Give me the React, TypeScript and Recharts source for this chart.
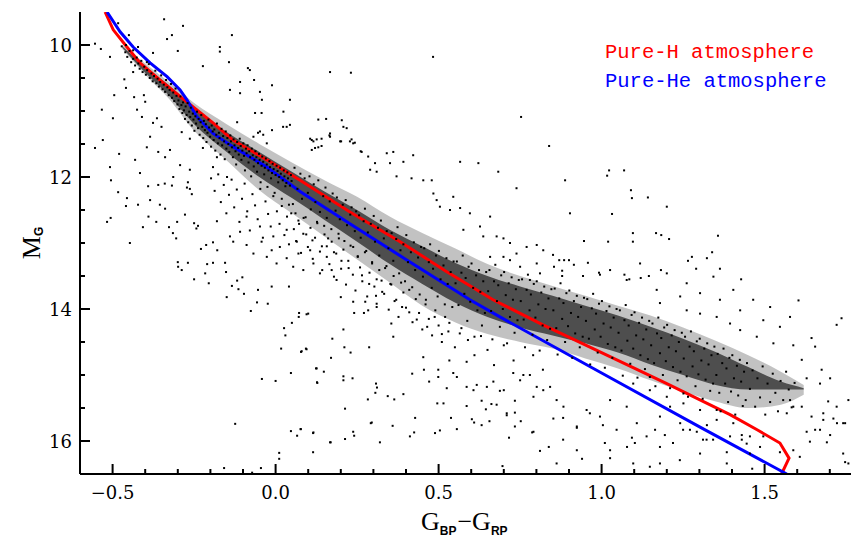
import { ComposedChart, XAxis, YAxis, Scatter, Line, Area } from "recharts";

type Pt = [number, number];

// axis ticks
const colourTicks = [-0.5, -0.4, -0.3, -0.2, -0.1, 0, 0.1, 0.2, 0.3, 0.4, 0.5, 0.6, 0.7, 0.8, 0.9, 1, 1.1, 1.2, 1.3, 1.4, 1.5, 1.6, 1.7];
const colourLabels = [-0.5, 0, 0.5, 1, 1.5];
const magTicks = [10, 10.5, 11, 11.5, 12, 12.5, 13, 13.5, 14, 14.5, 15, 15.5, 16];
const magLabels = [10, 12, 14, 16];

// model cooling sequences (colour, M_G)
const pureH: Pt[] = [[-0.523,9.5],[-0.498,9.77],[-0.456,10.03],[-0.416,10.27],[-0.355,10.53],[-0.293,10.78],[-0.253,10.94],[-0.192,11.18],[-0.131,11.44],[-0.079,11.59],[-0.027,11.74],[0.075,12.05],[0.228,12.53],[0.382,12.98],[0.52,13.42],[0.667,13.86],[0.82,14.24],[0.995,14.65],[1.2,15.13],[1.394,15.6],[1.477,15.83],[1.547,16.03],[1.575,16.26],[1.552,16.5]];
const pureHe: Pt[] = [[-0.517,9.5],[-0.477,9.8],[-0.437,10.03],[-0.385,10.27],[-0.333,10.48],[-0.293,10.68],[-0.272,10.83],[-0.241,11.09],[-0.192,11.34],[-0.131,11.54],[-0.027,11.85],[0.075,12.22],[0.228,12.71],[0.4,13.25],[0.596,13.86],[0.688,14.12],[1.0,14.97],[1.302,15.79],[1.568,16.5]];

// envelope of the crowded sequence
const envColour = [-0.47,-0.4,-0.33,-0.25,-0.15,-0.05,0.05,0.15,0.25,0.35,0.45,0.55,0.65,0.75,0.85,0.95,1.05,1.15,1.25,1.35,1.45,1.55,1.62];
const coreBright = [10.02,10.33,10.6,10.95,11.32,11.62,11.92,12.22,12.5,12.8,13.05,13.3,13.5,13.66,13.8,13.95,14.1,14.27,14.45,14.65,14.88,15.1,15.2];
const coreFaint = [10.04,10.42,10.75,11.2,11.62,12.0,12.32,12.65,12.98,13.32,13.62,13.9,14.12,14.28,14.4,14.52,14.66,14.84,15.0,15.15,15.22,15.22,15.22];
const haloBright = [10.0,10.28,10.55,10.88,11.2,11.5,11.78,12.05,12.3,12.6,12.85,13.08,13.32,13.5,13.65,13.8,13.95,14.1,14.28,14.48,14.7,14.95,15.15];
const haloFaint = [10.06,10.45,10.8,11.3,11.75,12.2,12.55,12.9,13.25,13.6,13.95,14.2,14.38,14.5,14.6,14.75,14.9,15.08,15.25,15.4,15.5,15.45,15.3];

// stars along the blue end of the sequence
const starsHot: Pt[] = [[-0.472,10.02],[-0.461,10.11],[-0.455,10.18],[-0.448,10.09],[-0.443,10.26],[-0.437,10.21],[-0.431,10.31],[-0.426,10.19],[-0.421,10.28],[-0.417,10.36],[-0.412,10.24],[-0.408,10.41],[-0.403,10.33],[-0.398,10.45],[-0.394,10.38],[-0.389,10.29],[-0.386,10.5],[-0.381,10.43],[-0.377,10.55],[-0.373,10.47],[-0.369,10.39],[-0.366,10.58],[-0.362,10.51],[-0.358,10.63],[-0.354,10.56],[-0.351,10.46],[-0.347,10.67],[-0.343,10.6],[-0.339,10.71],[-0.336,10.53],[-0.332,10.64],[-0.328,10.76],[-0.325,10.68],[-0.321,10.59],[-0.318,10.8],[-0.314,10.72],[-0.311,10.85],[-0.307,10.66],[-0.304,10.77],[-0.301,10.9],
[-0.298,10.84],[-0.295,10.97],[-0.292,10.78],[-0.289,10.91],[-0.286,11.03],[-0.284,10.87],[-0.281,10.99],[-0.278,11.12],[-0.276,10.93],[-0.273,11.06],[-0.27,10.88],[-0.268,11.17],[-0.265,11.01],[-0.262,11.09],[-0.26,10.95],[-0.257,11.22],[-0.254,11.04],[-0.252,11.13],[-0.249,11.3],[-0.246,11.08],[-0.244,11.19],[-0.241,11.01],[-0.238,11.26],[-0.236,11.12],[-0.233,11.36],[-0.23,11.17],[-0.228,11.06],[-0.225,11.24],[-0.222,11.41],[-0.22,11.15],[-0.217,11.29],[-0.214,11.2],[-0.212,11.47],[-0.209,11.33],[-0.206,11.13],[-0.204,11.25],[-0.201,11.39],[-0.198,11.54],[-0.196,11.22],[-0.193,11.31],[-0.19,11.44],[-0.188,11.28],[-0.185,11.6],[-0.182,11.36],[-0.18,11.19],[-0.177,11.49],[-0.174,11.33],[-0.172,11.41],[-0.169,11.66],[-0.166,11.27],[-0.164,11.52],[-0.161,11.38],[-0.158,11.46],[-0.156,11.73],[-0.153,11.31],[-0.151,11.57],
[-0.148,11.41],[-0.145,11.5],[-0.142,11.62],[-0.139,11.37],[-0.137,11.46],[-0.134,11.55],[-0.131,11.7],[-0.129,11.43],[-0.126,11.52],[-0.123,11.61],[-0.121,11.81],[-0.118,11.47],[-0.115,11.56],[-0.113,11.66],[-0.11,11.42],[-0.107,11.53],[-0.105,11.74],[-0.102,11.6],[-0.099,11.49],[-0.097,11.68],[-0.094,11.9],[-0.091,11.57],[-0.089,11.64],[-0.086,11.52],[-0.083,11.78],[-0.081,11.61],[-0.078,11.7],[-0.075,11.99],[-0.073,11.57],[-0.07,11.67],[-0.067,11.84],[-0.065,11.74],[-0.062,11.61],[-0.059,11.7],[-0.057,11.92],[-0.054,11.79],[-0.051,11.65],[-0.049,11.74],[-0.046,12.08],[-0.043,11.83],[-0.041,11.69],[-0.038,11.77],[-0.035,11.96],[-0.033,11.86],[-0.03,11.72],[-0.027,11.81],[-0.025,12.15],[-0.022,11.9],[-0.019,11.76],[-0.017,11.85],[-0.014,12.02],[-0.011,11.94],[-0.009,11.8],[-0.006,11.88],[-0.003,12.24],[0.0,11.97],[0.003,11.83],[0.006,11.91],[0.008,12.08],[0.011,12.0],[0.014,11.86],[0.016,11.95],[0.019,12.33],[0.022,12.05],[0.025,11.9],[0.027,11.99],[0.03,12.14],[0.033,12.09],[0.036,11.93],[0.038,12.02],[0.041,12.42],[0.044,12.13],[0.047,11.97],[0.049,12.06]];

// stars in the middle of the sequence
const starsMid: Pt[] = [[0.053,12.41],[0.058,11.86],[0.061,12.55],[0.067,12.18],[0.072,12.71],[0.076,11.95],[0.081,12.33],[0.086,12.62],[0.089,12.02],[0.094,12.87],[0.099,12.24],[0.104,11.99],[0.108,12.49],[0.113,12.96],[0.117,12.11],[0.122,12.38],[0.127,12.68],[0.131,12.05],[0.136,12.53],[0.142,13.05],[0.146,12.29],[0.149,12.74],
[0.153,12.16],[0.157,12.62],[0.161,12.93],[0.166,12.37],[0.171,12.79],[0.175,12.25],[0.179,13.14],[0.184,12.51],[0.188,12.31],[0.193,12.86],[0.197,12.64],[0.202,13.27],[0.206,12.42],[0.211,12.97],[0.215,12.35],[0.219,12.73],[0.224,13.38],[0.229,12.57],[0.233,12.46],[0.238,13.06],[0.243,12.82],[0.247,12.52],
[0.252,13.21],[0.256,12.58],[0.261,12.92],[0.265,13.49],[0.27,12.67],[0.274,12.48],[0.278,13.12],[0.283,12.84],[0.287,13.62],[0.292,12.71],[0.296,13.31],[0.301,12.59],[0.305,12.98],[0.31,13.55],[0.314,12.77],[0.318,13.19],[0.323,12.66],[0.327,13.74],[0.332,12.93],[0.336,13.38],[0.341,12.82],[0.346,13.08],
[0.352,13.62],[0.356,12.85],[0.361,13.27],[0.365,13.88],[0.37,12.94],[0.374,12.76],[0.379,13.46],[0.383,13.11],[0.388,13.97],[0.392,13.02],[0.397,13.58],[0.401,12.88],[0.406,13.29],[0.41,14.05],[0.415,13.14],[0.419,13.67],[0.424,12.99],[0.428,13.41],[0.433,14.16],[0.437,13.22],[0.442,13.78],[0.446,13.06],
[0.452,13.51],[0.456,13.08],[0.461,13.86],[0.465,14.27],[0.47,13.29],[0.474,13.02],[0.479,13.68],[0.483,13.39],[0.488,14.12],[0.492,13.19],[0.497,13.81],[0.501,13.12],[0.506,13.55],[0.51,14.38],[0.515,13.34],[0.519,13.93],[0.524,13.23],[0.528,13.62],[0.533,14.21],[0.537,13.44],[0.542,13.97],[0.546,13.28],
[0.552,13.61],[0.556,13.28],[0.561,13.94],[0.565,14.37],[0.57,13.45],[0.574,13.19],[0.579,13.77],[0.583,13.53],[0.588,14.18],[0.592,13.36],[0.597,13.89],[0.601,13.31],[0.606,13.68],[0.61,14.42],[0.615,13.49],[0.619,14.02],[0.624,13.41],[0.628,13.74],[0.633,14.25],[0.637,13.58],[0.642,14.06],[0.646,13.44],
[0.652,13.73],[0.656,13.41],[0.661,14.03],[0.665,14.46],[0.67,13.58],[0.674,13.33],[0.679,13.88],[0.683,13.64],[0.688,14.27],[0.692,13.49],[0.697,14.0],[0.701,13.44],[0.706,13.79],[0.71,14.52],[0.715,13.61],[0.719,14.12],[0.724,13.52],[0.728,13.86],[0.733,14.36],[0.737,13.7],[0.742,14.17],[0.746,13.56]];

// stars at the red end of the sequence
const starsCool: Pt[] = [[0.752,13.88],[0.756,13.55],[0.761,14.16],[0.765,14.58],[0.77,13.71],[0.774,13.48],[0.779,14.02],[0.783,13.78],[0.788,14.39],[0.792,13.62],[0.797,14.13],[0.801,13.58],[0.806,13.93],[0.81,14.63],[0.815,13.75],[0.819,14.25],[0.824,13.66],[0.828,14.0],[0.833,14.47],[0.837,13.84],[0.842,14.3],[0.846,13.7],
[0.852,14.02],[0.856,13.69],[0.861,14.29],[0.865,14.69],[0.87,13.84],[0.874,13.61],[0.879,14.15],[0.883,13.91],[0.888,14.5],[0.892,13.76],[0.897,14.26],[0.901,13.72],[0.906,14.06],[0.91,14.74],[0.915,13.88],[0.919,14.37],[0.924,13.8],[0.928,14.12],[0.933,14.58],[0.937,13.97],[0.942,14.42],[0.946,13.83],
[0.952,14.18],[0.956,13.85],[0.961,14.45],[0.965,14.84],[0.97,13.99],[0.974,13.77],[0.979,14.31],[0.983,14.07],[0.988,14.66],[0.992,13.92],[0.997,14.42],[1.001,13.88],[1.006,14.22],[1.01,14.89],[1.015,14.03],[1.019,14.53],[1.024,13.96],[1.028,14.28],[1.033,14.74],[1.037,14.13],[1.042,14.58],[1.046,14.0],
[1.052,14.36],[1.056,14.02],[1.061,14.63],[1.065,15.01],[1.07,14.17],[1.074,13.94],[1.079,14.48],[1.083,14.25],[1.088,14.83],[1.092,14.09],[1.097,14.6],[1.101,14.05],[1.106,14.4],[1.11,15.04],[1.115,14.21],[1.119,14.7],[1.124,14.13],[1.128,14.46],[1.133,14.91],[1.137,14.31],[1.142,14.76],[1.146,14.18],
[1.152,14.55],[1.156,14.22],[1.161,14.82],[1.165,15.17],[1.17,14.37],[1.174,14.13],[1.179,14.67],[1.183,14.44],[1.188,15.0],[1.192,14.28],[1.197,14.79],[1.201,14.24],[1.206,14.58],[1.21,15.2],[1.215,14.4],[1.219,14.88],[1.224,14.32],[1.228,14.64],[1.233,15.08],[1.237,14.5],[1.242,14.95],[1.246,14.36],
[1.252,14.75],[1.256,14.42],[1.261,15.02],[1.265,15.33],[1.27,14.57],[1.274,14.34],[1.279,14.87],[1.283,14.64],[1.288,15.17],[1.292,14.49],[1.297,14.99],[1.301,14.45],[1.306,14.78],[1.31,15.36],[1.315,14.6],[1.319,15.07],[1.324,14.52],[1.328,14.84],[1.333,15.24],[1.337,14.7],[1.342,15.13],[1.346,14.57],
[1.352,15.0],[1.356,14.68],[1.361,15.27],[1.365,15.55],[1.37,14.82],[1.374,14.6],[1.379,15.13],[1.383,14.9],[1.388,15.41],[1.392,14.74],[1.397,15.25],[1.401,14.7],[1.406,15.05],[1.41,15.6],[1.415,14.86],[1.419,15.31],[1.424,14.77],[1.428,15.1],[1.433,15.47],[1.437,14.95],[1.442,15.38],[1.446,14.82],
[1.455,15.21],[1.463,14.93],[1.471,15.48],[1.478,15.05],[1.486,15.34],[1.494,14.87],[1.502,15.6],[1.509,15.13],[1.517,15.41],[1.525,14.98],[1.533,15.27],[1.541,15.55],[1.549,15.09],[1.557,15.38],[1.566,14.95],[1.574,15.22],[1.583,15.49],[1.592,15.12]];

// second, fainter branch below the He track
const starsBranch: Pt[] = [[-0.198,12.02],[-0.187,12.21],[-0.176,11.96],[-0.168,12.38],[-0.159,12.12],[-0.151,12.55],[-0.143,12.27],[-0.135,12.04],[-0.127,12.46],[-0.119,12.19],[-0.111,12.68],[-0.103,12.33],[-0.095,12.1],[-0.087,12.52],[-0.079,12.81],[-0.071,12.26],[-0.063,12.43],[-0.055,12.64],[-0.047,12.18],[-0.039,12.92],[-0.031,12.37],[-0.023,12.56],[-0.015,12.75],[-0.007,12.29],
[0.004,12.52],[0.012,12.71],[0.019,12.44],[0.027,12.88],[0.035,12.6],[0.041,13.02],[0.048,12.55],[0.056,12.79],[0.063,12.97],[0.07,12.66],[0.078,13.15],[0.085,12.86],[0.092,12.61],[0.099,13.06],[0.107,12.77],[0.114,13.24],[0.121,12.92],[0.128,12.7],[0.136,13.13],[0.143,13.41],[0.15,12.87],[0.157,13.05],[0.165,13.32],[0.172,12.98],[0.179,13.51],[0.186,13.16],[0.194,12.93],[0.201,13.39],[0.208,13.1],[0.216,13.63],[0.223,13.27],[0.23,13.04],[0.237,13.48],[0.245,13.72],[0.252,13.2],[0.259,13.37],[0.266,13.58],[0.274,13.14],[0.281,13.81],[0.288,13.45],[0.296,13.29],[0.303,13.66],[0.31,13.92],[0.318,13.41],[0.325,13.57],[0.333,13.77],[0.34,13.35],[0.347,14.01],[0.355,13.63],[0.362,13.5],[0.37,13.86],[0.377,14.12],[0.385,13.6],[0.392,13.75],[0.4,13.98],[0.41,13.71],[0.42,14.2],[0.43,13.85],[0.44,14.06],[0.45,14.31],[0.46,13.93],[0.47,14.15],[0.48,14.4],[0.49,14.02],[0.5,14.25],[0.51,14.5],[0.52,14.12],[0.53,14.34],[0.55,14.58],[0.57,14.29],[0.59,14.47],[0.61,14.7],[0.63,14.41],[0.65,14.62],[0.67,14.85],[0.7,14.55],[0.73,14.78],[0.76,15.0],[0.79,14.7],[0.82,14.92],
[-0.14,12.9],[-0.13,12.98],[-0.109,12.83],[-0.089,13.03],[-0.068,13.16],[-0.043,12.98],[-0.027,13.21],[-0.012,13.11],[0.003,13.31],[0.013,13.06],[0.034,13.23],[0.054,13.36],[0.07,13.16],[0.085,13.41],[0.106,13.11],[0.116,13.31],[0.136,13.46],[0.157,13.21],[0.172,13.41],[0.187,13.56],[-0.089,12.6],[-0.048,12.75],[-0.007,12.9],[0.034,12.8],[0.065,12.98]];

// isolated stars, bright side
const starsAbove: Pt[] = [[-0.554,9.98],[-0.536,10.06],[-0.508,10.18],[-0.483,9.67],[-0.464,10.52],[-0.459,10.65],[-0.495,10.76],[-0.533,10.98],[-0.499,11.11],[-0.554,11.56],[-0.53,11.44],[-0.508,11.85],[-0.48,11.65],[-0.437,10.41],[-0.434,10.79],[-0.404,10.76],[-0.4,10.86],[-0.425,10.98],[-0.41,11.09],[-0.376,11.18],[-0.385,11.39],[-0.35,11.24],[-0.364,11.11],[-0.431,11.74],[-0.416,11.94],[-0.395,11.55],[-0.36,11.62],[-0.339,11.7],[-0.324,11.59],[-0.293,11.82],[-0.314,12.0],[-0.263,11.89],[-0.269,12.08],[-0.288,11.32],[-0.263,11.42],[-0.223,11.56],[-0.192,11.85],[-0.149,12.0],[-0.18,11.7],[-0.118,11.17],[-0.109,10.73],[-0.066,10.53],[-0.079,10.38],[-0.011,10.61],[-0.011,11.29],[0.023,11.24],[0.044,10.83],[-0.14,10.68],[-0.171,10.03],[-0.171,10.1],[-0.223,10.32],[-0.284,9.71],[-0.342,9.61],[-0.318,9.85],[-0.333,9.91],[-0.3,10.09],[-0.134,9.85],[-0.143,10.26],[-0.085,10.35],[-0.109,10.56],[-0.048,10.71],[-0.042,10.83],[-0.376,10.12],[-0.395,10.26],[-0.45,9.85],[-0.459,10.0],[-0.422,10.03],[-0.437,10.08],[-0.054,11.33],
[0.106,11.42],[0.111,11.44],[0.116,11.46],[0.126,11.43],[0.131,11.13],[0.141,11.42],[0.155,11.12],[0.165,11.37],[0.167,11.39],[0.203,11.14],[0.218,11.26],[0.201,11.46],[0.233,11.43],[0.243,11.48],[0.121,11.56],[0.131,11.55],[0.141,11.53],[0.261,11.61],[0.483,10.18],[0.167,10.41],[0.231,10.42],[0.753,11.09],[0.839,11.53],
[-0.068,11.39],[-0.048,11.31],[-0.038,11.36],[-0.027,11.49],[-0.063,11.03],[-0.043,11.03],[0.024,11.01],[0.044,11.21],[0.034,11.24],[0.111,11.59],[0.167,11.34],[0.198,11.46],[0.208,11.24],[0.228,11.46],[0.238,11.49],[0.264,11.62],[0.284,11.69],[0.305,11.79],[0.29,11.89],[0.31,11.92],[0.341,11.64],[0.361,11.62],[0.351,11.79],[0.371,11.99],[0.392,11.77],[0.417,12.02],[0.422,11.67],[0.453,12.05],[0.479,12.05],[0.484,12.25],[0.494,12.35],[0.504,12.45],[0.535,12.5],[0.545,12.3],[0.566,12.47],[0.576,12.8],[0.596,12.55],[0.627,12.75],[0.637,12.9],[0.658,12.6],[0.683,11.92],[0.739,12.17],[0.566,11.77],[0.622,11.79],[0.678,12.9],[0.699,12.93],[0.719,13.0],[0.77,13.06],[0.801,13.03],[0.821,13.11],[0.801,13.31],[0.811,13.46],[0.78,13.56],[0.75,13.36],[0.719,13.26],[0.739,13.16],[0.699,13.21],[0.658,13.21],
[1.023,11.9],[1.069,11.9],[1.017,11.98],[0.888,12.05],[1.09,12.2],[1.093,12.32],[1.142,12.31],[1.2,12.45],[0.903,12.55],[1.032,12.56],[1.096,12.85],[1.167,12.85],[1.183,12.88],[1.207,12.94],[1.357,12.89],[0.946,12.97],[1.02,12.98],[1.096,12.98],[1.339,13.14],[1.277,13.21],[1.323,13.23],[1.265,13.27],[1.29,13.39],[1.363,13.39],[1.428,13.55],[0.851,13.18],[0.87,13.26],[0.885,13.26],[0.9,13.26],[0.854,13.36],[0.915,13.33],[0.958,13.3],[0.879,13.42],[0.879,13.5],[0.943,13.5],[0.992,13.45],[0.995,13.48],[1.07,13.48],[1.145,13.5],[1.182,13.41],[1.12,13.53],[1.085,13.55],
[1.026,13.41],[1.077,13.56],[1.118,13.31],[1.169,13.71],[1.2,13.46],[1.241,13.81],[1.261,13.61],[1.302,13.76],[1.343,13.51],[1.363,13.86],[1.404,13.71],[1.425,14.02],[1.465,13.86],[1.496,14.17],[1.517,13.97],[1.547,14.27],[1.578,14.12],[1.527,14.52],[1.476,14.42],[1.394,14.22],[1.353,14.12],[1.425,14.32],[1.261,14.02],[1.302,14.07],[1.179,13.91],
[1.604,13.87],[1.736,14.14],[1.721,14.24],[1.644,14.44],[1.588,14.55],[1.655,14.57],[1.614,14.77],[1.675,14.92],[1.701,15.05],[1.629,15.05],[1.67,15.13],[1.695,15.4],[1.721,15.48],[1.757,15.38],[1.68,15.58],[1.711,15.66],[1.741,15.73],[1.67,15.83],[1.629,15.86],[1.639,16.01],[1.741,16.19],[1.701,15.91],[1.757,16.34],[1.588,16.14],[1.608,16.24],[1.655,15.83],[1.68,15.68],[1.644,15.63],[1.614,15.48],[1.578,15.38],[1.588,15.48],[1.568,15.58]];

// isolated stars, faint side
const starsBelow: Pt[] = [[-0.505,12.05],[-0.483,12.23],[-0.456,12.32],[-0.459,12.44],[-0.517,12.68],[-0.506,12.62],[-0.447,13.0],[-0.422,12.42],[-0.407,12.76],[-0.391,12.14],[-0.39,12.6],[-0.385,12.35],[-0.36,12.12],[-0.366,12.68],[-0.355,12.42],[-0.34,12.1],[-0.339,12.48],[-0.318,12.13],[-0.327,12.76],[-0.315,12.85],[-0.305,12.93],[-0.302,12.68],[-0.3,13.29],[-0.299,13.36],[-0.288,13.41],[-0.269,13.3],[-0.278,12.57],[-0.272,12.16],[-0.263,12.18],[-0.257,12.26],[-0.25,12.7],[-0.243,12.78],[-0.238,12.74],[-0.25,13.55],[-0.229,13.09],[-0.213,13.03],[-0.216,13.46],[-0.205,13.61],[-0.21,13.32],[-0.192,12.99],[-0.179,13.11],[-0.192,13.3],[-0.18,12.67],[-0.15,13.82],[-0.155,13.3],[-0.152,13.44],[-0.134,13.65],[-0.118,13.57],[-0.114,13.7],[-0.097,13.77],[-0.102,13.52],[-0.076,14.03],[-0.057,13.9],[-0.054,13.71],[-0.042,15.06],[-0.024,13.92],[-0.012,13.66],[0.0,15.09],[0.017,14.6],[0.026,14.29],[0.03,14.4],[0.041,13.66],[0.047,14.97],[0.05,14.21],[0.071,14.12],[0.072,14.06],[0.078,14.65],[0.093,14.6],[0.1,14.07],[0.124,14.9],[0.127,15.11],[0.148,14.95],[0.17,14.74],[0.174,14.45],[-0.124,15.74],[0.047,15.85],[0.066,15.92],[0.077,15.82],[0.115,15.88],[0.115,16.17],[0.167,16.02],[0.011,16.18],[0.011,16.27],[-0.158,16.41],[-0.072,16.48],[-0.045,16.41],
[0.095,14.08],[0.08,14.64],[0.095,14.61],[0.126,14.9],[0.128,15.12],[0.2,13.82],[0.208,14.31],[0.211,14.58],[0.23,14.66],[0.238,13.89],[0.241,14.06],[0.271,14.06],[0.275,13.89],[0.284,14.02],[0.287,14.58],[0.308,13.8],[0.31,13.97],[0.208,15.02],[0.208,15.08],[0.236,15.05],[0.283,15.37],[0.308,15.13],[0.311,15.19],[0.306,15.27],[0.344,15.32],[0.364,15.37],[0.392,15.29],[0.355,14.22],[0.361,14.42],[0.213,15.51],[0.295,15.72],[0.292,15.73],[0.359,15.77],[0.412,15.93],[0.425,15.87],[0.428,15.65],[0.419,14.98],[0.453,14.73],[0.455,14.92],[0.471,15.1],[0.496,15.43],[0.515,15.43],[0.489,15.88],[0.504,15.84],[0.499,15.03],[0.499,14.92],[0.525,15.2],[0.538,15.65],[0.556,15.82],[0.533,14.78],[0.545,14.97],[0.556,15.03],[0.586,14.8],[0.586,15.18],[0.586,15.47],[0.602,15.67],[0.609,15.72],[0.632,15.76],[0.632,15.39],[0.645,15.52],[0.662,15.44],[0.678,15.45],[0.656,15.7],[0.688,15.24],[0.7,15.23],[0.709,15.61],[0.716,15.95],[0.734,15.57],[0.734,15.39],[0.752,15.7],[0.787,15.87],[0.811,16.15],[0.838,16.09],[0.116,15.87],[0.077,15.82],[0.169,16.02],[0.213,15.97],[0.238,15.86],[0.241,15.92],[0.32,16.02],[0.696,16.38],[0.607,15.23],[0.617,15.15],[0.648,15.18],[0.668,15.1],[0.729,14.97],[0.75,15.08],[0.78,15.0],[0.791,15.33],[0.821,15.23],[0.842,15.18],[0.862,15.38],[0.801,15.18],
[0.882,15.98],[0.94,16.27],[1.01,16.03],[1.026,16.26],[1.078,16.09],[1.102,16.03],[1.148,16.39],[1.179,16.09],[1.219,16.03],[1.24,16.29],[1.311,15.98],[1.342,15.98],[1.384,16.17],[1.43,15.98],[1.462,16.42],[1.547,16.17],[1.722,15.73],[1.747,15.73],[1.747,16.32],[1.691,16.02],[1.004,15.76],[1.093,15.95],[1.164,15.83],[1.194,15.91],[1.25,15.83],[1.292,15.86],[1.323,15.76],[1.43,15.91],[0.964,15.58],[0.924,15.8],[0.882,15.65],
[0.709,15.58],[0.734,15.78],[0.791,15.86],[0.852,15.66],[0.883,15.48],[0.924,15.78],[0.954,15.53],[0.995,15.63],[1.026,15.38],[1.046,15.83],[1.077,15.48],[1.108,15.73],[1.138,15.93],[1.179,15.63],[1.21,15.48],[1.241,15.73],[1.271,15.83],[1.302,15.53],[1.322,15.98],[1.353,15.68],[1.394,15.93],[0.924,16.14],[0.862,16.34],[1.026,16.14],[1.097,16.34],[1.179,16.34],[1.302,16.19],[1.384,16.34],[1.455,16.19],[1.496,15.93],[1.445,16.04],
[1.097,15.13],[1.148,15.23],[1.2,15.33],[1.251,15.43],[1.404,15.73],[1.455,15.93],[1.486,16.09],[1.148,15.03],[1.251,15.28],[1.353,15.53]];

const toRows = (pts: Pt[]) => pts.map(([c, m]) => ({ c, m }));
const stars = toRows([...starsHot, ...starsMid, ...starsCool, ...starsBranch, ...starsAbove, ...starsBelow]);
const hRows = toRows(pureH);
const heRows = toRows(pureHe);
const haloRows = envColour.map((c, i) => ({ c, band: [haloBright[i], haloFaint[i]] }));
const coreRows = envColour.map((c, i) => ({ c, band: [coreBright[i], coreFaint[i]] }));

const near = (v: number, list: number[]) => list.some((l) => Math.abs(l - v) < 1e-6);
const tickFont = { fontFamily: "DejaVu Serif", fontSize: 18, fill: "#000" };

const BottomTick = ({ x, y, payload }: any) => {
  const major = near(payload.value, colourLabels);
  return (
    <g>
      <line x1={x} x2={x} y1={y} y2={y - (major ? 10 : 5)} stroke="#000" strokeWidth={2} />
      {major && (
        <text x={x} y={y + 25} textAnchor="middle" {...tickFont}>
          {payload.value.toFixed(1).replace("-", "\u2212")}
        </text>
      )}
    </g>
  );
};

const TopTick = ({ x, y, payload }: any) => {
  const major = near(payload.value, colourLabels);
  return <line x1={x} x2={x} y1={y} y2={y + (major ? 10 : 5)} stroke="#000" strokeWidth={2} />;
};

const LeftTick = ({ x, y, payload }: any) => {
  const major = near(payload.value, magLabels);
  return (
    <g>
      <line x1={x} x2={x + (major ? 10 : 5)} y1={y} y2={y} stroke="#000" strokeWidth={2} />
      {major && (
        <text x={x - 8} y={y + 7} textAnchor="end" {...tickFont}>
          {payload.value}
        </text>
      )}
    </g>
  );
};

const Dot = (p: any) => <rect x={p.cx - 1} y={p.cy - 1} width={2} height={2} fill="#000" />;

const axisLine = { stroke: "#000", strokeWidth: 2 };

export default function App() {
  return (
    <div style={{ position: "absolute", left: 0, top: 0, width: 851, height: 538, overflow: "hidden", background: "#fff" }}>
      <ComposedChart width={866} height={538} margin={{ top: 12, right: 3.6, bottom: 0, left: 0 }}>
        <XAxis type="number" dataKey="c" domain={[-0.6, 1.8]} ticks={colourTicks} interval={0} allowDataOverflow
          tick={BottomTick} tickLine={false} tickSize={0} tickMargin={0} height={64} axisLine={axisLine} />
        <XAxis xAxisId="top" orientation="top" type="number" dataKey="c" domain={[-0.6, 1.8]} ticks={colourTicks} interval={0} allowDataOverflow
          tick={TopTick} tickLine={false} tickSize={0} tickMargin={0} height={0} axisLine={axisLine} />
        <YAxis type="number" dataKey="m" domain={[9.5, 16.5]} reversed ticks={magTicks} interval={0} allowDataOverflow
          tick={LeftTick} tickLine={false} tickSize={0} tickMargin={0} width={80} axisLine={axisLine} />
        <Area data={haloRows} dataKey="band" type="monotone" stroke="none" fill="#000" fillOpacity={0.24} isAnimationActive={false} />
        <Area data={coreRows} dataKey="band" type="monotone" stroke="none" fill="#000" fillOpacity={0.6} isAnimationActive={false} />
        <Scatter data={stars} shape={Dot} isAnimationActive={false} />
        <Line data={hRows} dataKey="m" type="linear" stroke="#ff0000" strokeWidth={3} dot={false} isAnimationActive={false} />
        <Line data={heRows} dataKey="m" type="linear" stroke="#0000ff" strokeWidth={3} dot={false} isAnimationActive={false} />
      </ComposedChart>
      <svg width={851} height={538} style={{ position: "absolute", left: 0, top: 0, pointerEvents: "none" }}>
        <text x={421} y={530} fontFamily="Liberation Serif" fontSize={26} fill="#000">
          G
          <tspan fontFamily="Liberation Sans" fontWeight="bold" fontSize={12} dy={5}>BP</tspan>
          <tspan dy={-5} dx={1}>{"\u2212G"}</tspan>
          <tspan fontFamily="Liberation Sans" fontWeight="bold" fontSize={12} dy={5}>RP</tspan>
        </text>
        <text transform="translate(40,243) rotate(-90)" textAnchor="middle" fontFamily="Liberation Serif" fontSize={26} fill="#000">
          M<tspan fontFamily="Liberation Sans" fontWeight="bold" fontSize={12} dy={3}>G</tspan>
        </text>
        <text x={605} y={58} fontFamily="Liberation Mono" fontSize={20.5} fill="#ff0000">Pure-H atmosphere</text>
        <text x={605} y={87} fontFamily="Liberation Mono" fontSize={20.5} fill="#0000ff">Pure-He atmosphere</text>
      </svg>
    </div>
  );
}
